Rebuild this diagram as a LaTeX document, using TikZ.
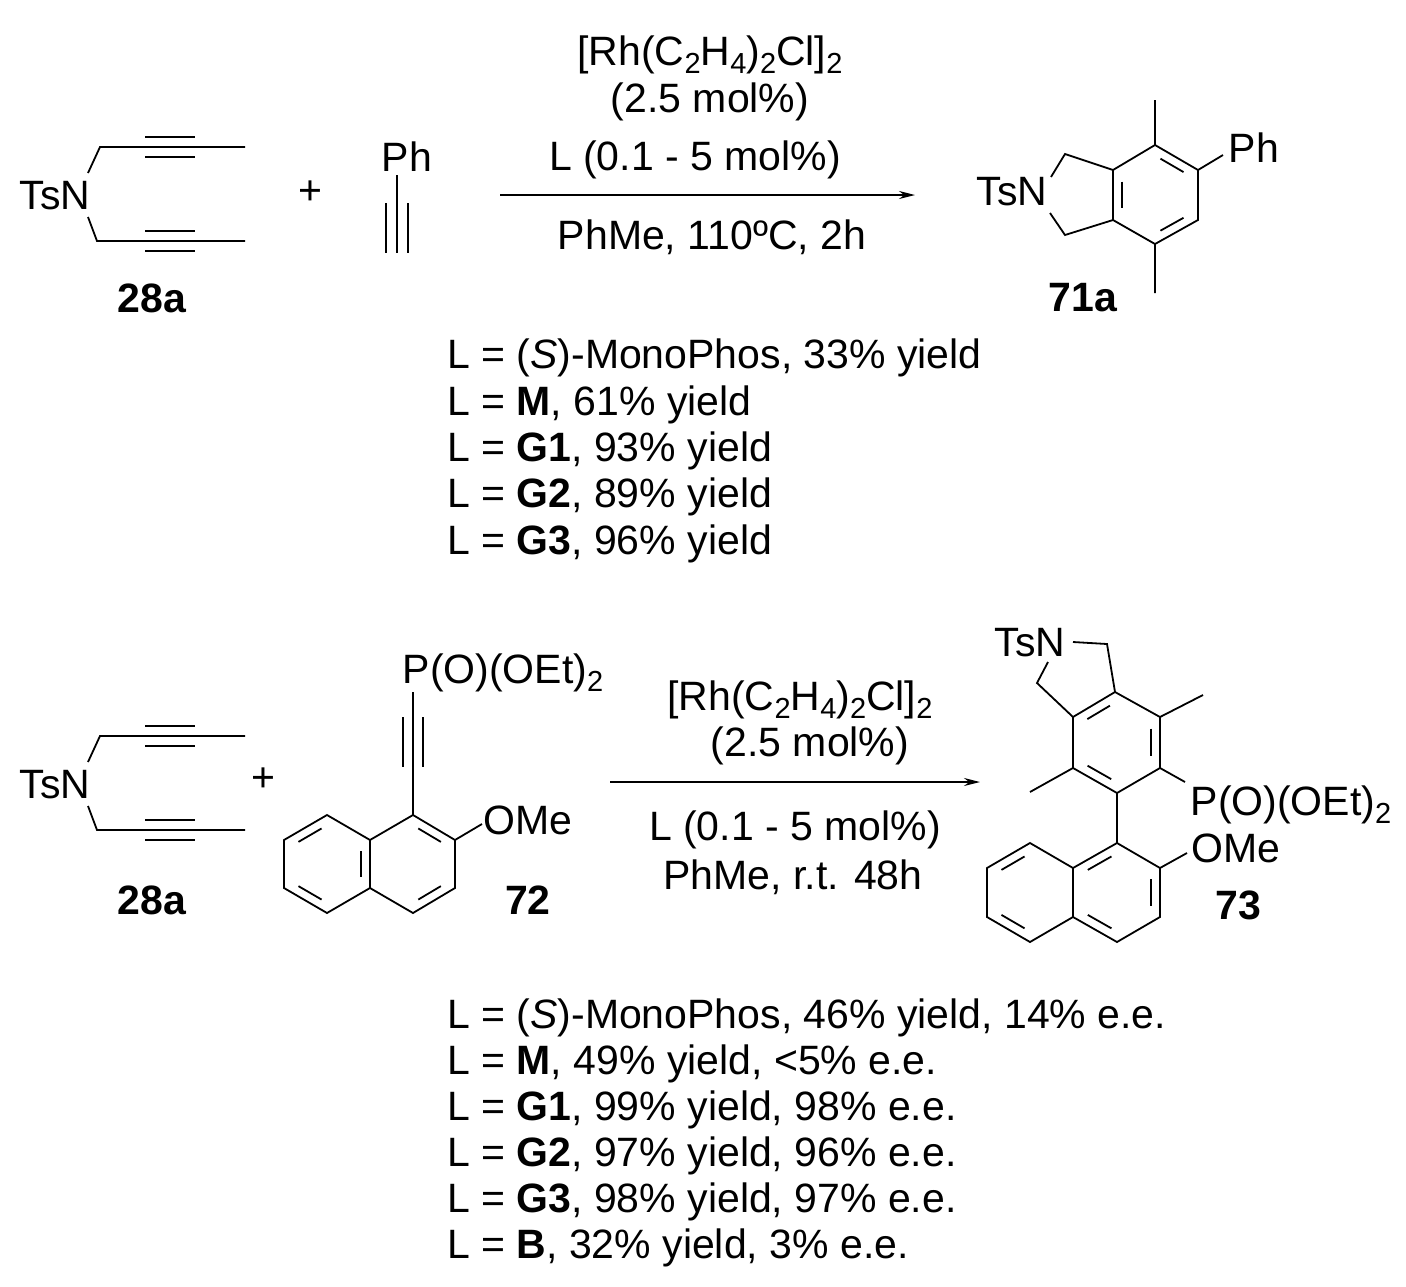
\documentclass[tikz,border=0pt]{standalone}
\usepackage{fontspec}
\setmainfont{Liberation Sans}
\usetikzlibrary{calc,arrows.meta}
\newcommand{\csub}[1]{\raisebox{-0.35ex}{\fontsize{29}{29}\selectfont #1}}
\newcommand{\ibond}[3]{\draw[bond] ($($(#1)!0.16!(#2)$)!0.21!(#3)$) -- ($($(#2)!0.16!(#1)$)!0.21!(#3)$);}
\begin{document}
\begin{tikzpicture}[x=1pt,y=-1pt,
  bond/.style={line width=1.8pt},
  lbl/.style={font=\fontsize{41}{46}\selectfont, inner sep=0pt},
  cmpd/.style={font=\fontsize{41}{46}\selectfont\bfseries, inner sep=0pt},
  yl/.style={font=\fontsize{41}{46}\selectfont, inner sep=0pt, anchor=west},
  rxn/.style={line width=1.5pt,-{Stealth[length=16pt,width=8pt]}}]
\useasboundingbox (0,0) rectangle (1406,1286);
% ---------- top reaction ----------
\node[lbl] (tsn1) at (55,196) {TsN};
\draw[bond] (88,173) -- (100,147) -- (245,147);
\draw[bond] (145,137) -- (195,137) (145,157) -- (195,157);
\draw[bond] (88,217) -- (97,241) -- (245,241);
\draw[bond] (145,231) -- (195,231) (145,251) -- (195,251);
\node[cmpd] (c28a) at (152,298) {28a};
\node[lbl] (plus1) at (310,193) {+};
\node[lbl] (ph1) at (407,157) {Ph};
\draw[bond] (397,175) -- (397,253) (386,203) -- (386,253) (408,203) -- (408,253);
\coordinate (a1s) at (500,195); \coordinate (a1e) at (915,195);
\draw[rxn] (a1s) -- (a1e);
\node[lbl] (r1) at (710,55) {[Rh(C\csub{2}H\csub{4})\csub{2}Cl]\csub{2}};
\node[lbl] (r2) at (710,102) {(2.5 mol\%)};
\node[lbl] (r3) at (695,160) {L (0.1 - 5 mol\%)};
\node[lbl] (r4) at (712,237) {PhMe, 110ºC,  2h};
% 71a
\node[lbl] (tsn2) at (1012,192) {TsN};
\coordinate (A1) at (1113,170); \coordinate (A2) at (1155,145); \coordinate (A3) at (1198,170);
\coordinate (A4) at (1198,220); \coordinate (A5) at (1155,244); \coordinate (A6) at (1113,220);
\coordinate (Ac) at (1155,195);
\draw[bond] (A1)--(A2)--(A3)--(A4)--(A5)--(A6)--cycle;
\ibond{A1}{A6}{Ac} \ibond{A2}{A3}{Ac} \ibond{A4}{A5}{Ac}
\draw[bond] (1051,177) -- (1065,154) -- (A1);
\draw[bond] (1050,213) -- (1065,235) -- (A6);
\draw[bond] (A2) -- (1155,100) (A5) -- (1155,293) (A3) -- (1223,155);
\node[lbl] (ph2) at (1254,148) {Ph};
\node[cmpd] (c71a) at (1083,298) {71a};
\node[yl] (y1) at (447,358) {L = (\textit{S})-MonoPhos, 33\% yield};
\node[yl] (y2) at (447,405) {L = \textbf{M}, 61\% yield};
\node[yl] (y3) at (447,451) {L = \textbf{G1}, 93\% yield};
\node[yl] (y4) at (447,497) {L = \textbf{G2}, 89\% yield};
\node[yl] (y5) at (447,544) {L = \textbf{G3}, 96\% yield};
% ---------- bottom reaction ----------
\node[lbl] (tsn3) at (55,785) {TsN};
\draw[bond] (88,762) -- (100,736) -- (245,736);
\draw[bond] (145,726) -- (195,726) (145,746) -- (195,746);
\draw[bond] (88,806) -- (97,830) -- (245,830);
\draw[bond] (145,820) -- (195,820) (145,840) -- (195,840);
\node[cmpd] (c28b) at (152,900) {28a};
\node[lbl] (plus2) at (263,780) {+};
% 72
\node[lbl] (p72) at (503,673) {P(O)(OEt)\csub{2}};
\coordinate (B1) at (413,815); \coordinate (B2) at (455,840); \coordinate (B3) at (455,888);
\coordinate (B4) at (413,913); \coordinate (B5) at (370,888); \coordinate (B6) at (370,840);
\coordinate (B7) at (327,815); \coordinate (B8) at (284,840); \coordinate (B9) at (284,888);
\coordinate (B10) at (327,913);
\coordinate (Bc) at (413,864); \coordinate (Bd) at (327,864);
\draw[bond] (B1)--(B2)--(B3)--(B4)--(B5)--(B6)--cycle;
\draw[bond] (B6)--(B7)--(B8)--(B9)--(B10)--(B5);
\ibond{B1}{B2}{Bc} \ibond{B3}{B4}{Bc} \ibond{B6}{B5}{Bd} \ibond{B7}{B8}{Bd} \ibond{B9}{B10}{Bd}
\draw[bond] (B1) -- (413,692) (403,717) -- (403,767) (423,717) -- (423,767);
\draw[bond] (B2) -- (482,824);
\node[lbl] (ome1) at (528,820) {OMe};
\node[cmpd] (c72) at (528,900) {72};
\coordinate (a2s) at (610,782); \coordinate (a2e) at (980,782);
\draw[rxn] (a2s) -- (a2e);
\node[lbl] (s1) at (800,700) {[Rh(C\csub{2}H\csub{4})\csub{2}Cl]\csub{2}};
\node[lbl] (s2) at (810,746) {(2.5 mol\%)};
\node[lbl] (s3) at (795,830) {L (0.1 - 5 mol\%)};
\node[lbl] (s4) at (793,877) {PhMe, r.t. 48h};
% 73
\node[lbl] (tsn4) at (1030,643) {TsN};
\coordinate (C1) at (1115,692); \coordinate (C2) at (1160,717); \coordinate (C3) at (1160,768);
\coordinate (C4) at (1117,793); \coordinate (C5) at (1073,768); \coordinate (C6) at (1073,717);
\coordinate (Cc) at (1116,742);
\draw[bond] (C1)--(C2)--(C3)--(C4)--(C5)--(C6)--cycle;
\ibond{C6}{C1}{Cc} \ibond{C2}{C3}{Cc} \ibond{C5}{C4}{Cc}
\draw[bond] (1073,642) -- (1107,644) -- (C1);
\draw[bond] (1048,662) -- (1037,683) -- (C6);
\draw[bond] (C2) -- (1203,695) (C5) -- (1030,792) (C3) -- (1185,782);
\node[lbl] (p73) at (1291,805) {P(O)(OEt)\csub{2}};
\coordinate (D1) at (1117,843); \coordinate (D2) at (1160,868); \coordinate (D3) at (1160,917);
\coordinate (D4) at (1117,942); \coordinate (D5) at (1073,917); \coordinate (D6) at (1073,868);
\coordinate (D7) at (1030,843); \coordinate (D8) at (987,868); \coordinate (D9) at (987,917);
\coordinate (D10) at (1030,942);
\coordinate (Dc) at (1117,892); \coordinate (Dd) at (1030,892);
\draw[bond] (C4) -- (D1);
\draw[bond] (D1)--(D2)--(D3)--(D4)--(D5)--(D6)--cycle;
\draw[bond] (D6)--(D7)--(D8)--(D9)--(D10)--(D5);
\ibond{D1}{D6}{Dc} \ibond{D2}{D3}{Dc} \ibond{D4}{D5}{Dc} \ibond{D7}{D8}{Dd} \ibond{D9}{D10}{Dd}
\draw[bond] (D2) -- (1187,853);
\node[lbl] (ome2) at (1236,848) {OMe};
\node[cmpd] (c73) at (1238,905) {73};
\node[yl] (z1) at (447,1018) {L = (\textit{S})-MonoPhos, 46\% yield, 14\% e.e.};
\node[yl] (z2) at (447,1064) {L = \textbf{M}, 49\% yield, <5\% e.e.};
\node[yl] (z3) at (447,1110) {L = \textbf{G1}, 99\% yield, 98\% e.e.};
\node[yl] (z4) at (447,1156) {L = \textbf{G2}, 97\% yield, 96\% e.e.};
\node[yl] (z5) at (447,1202) {L = \textbf{G3}, 98\% yield, 97\% e.e.};
\node[yl] (z6) at (447,1248) {L = \textbf{B}, 32\% yield, 3\% e.e.};
\end{tikzpicture}
\end{document}
